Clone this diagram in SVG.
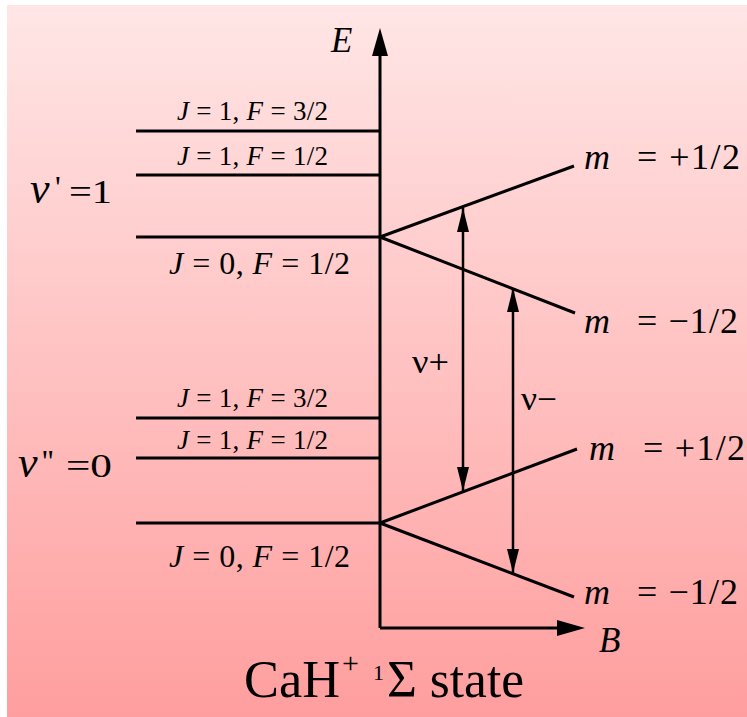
<svg xmlns="http://www.w3.org/2000/svg" width="747" height="717" viewBox="0 0 747 717">
<defs>
<linearGradient id="bg" x1="0" y1="0" x2="0" y2="1">
<stop offset="0" stop-color="#FFE6E6"/>
<stop offset="1" stop-color="#FF9E9E"/>
</linearGradient>
<marker id="ah" viewBox="0 0 24 12" refX="24" refY="6" markerWidth="24" markerHeight="12" markerUnits="userSpaceOnUse" orient="auto-start-reverse">
<path d="M0,0 L24,6 L0,12 Z" fill="#000"/>
</marker>
</defs>
<style>
.t{font-family:"Liberation Serif","Times New Roman",serif;fill:#000}
.i{font-style:italic}
.lv{stroke:#000;stroke-width:3;fill:none}
.ax{stroke:#000;stroke-width:3;fill:none}
.ar{stroke:#000;stroke-width:2.5;fill:none}
.s{font-size:27px}
.L{font-size:32px}
.m{font-size:36px}
.v{font-size:44px;font-style:italic}
.q{font-size:32px}
.n{font-size:34px}
</style>
<rect x="7" y="5" width="740" height="712" fill="url(#bg)"/>

<g id="axes">
<path class="ax" d="M380,628 L380,55" />
<path d="M380,28 L388,56 L372,56 Z" fill="#000"/>
<path class="ax" d="M380,628 L560,628" />
<path d="M585,628 L557,620 L557,636 Z" fill="#000"/>
<text class="t i" x="331" y="52" font-size="35">E</text>
<text class="t i" x="599" y="652" font-size="35">B</text>
</g>

<g id="upper-levels">
<line class="lv" x1="136" y1="131" x2="380" y2="131"/>
<line class="lv" x1="136" y1="175" x2="380" y2="175"/>
<line class="lv" x1="136" y1="237" x2="380" y2="237"/>
<text class="t s" x="177" y="120" textLength="151" lengthAdjust="spacing"><tspan class="i">J</tspan> = 1, <tspan class="i">F</tspan> = 3/2</text>
<text class="t s" x="177" y="165" textLength="151" lengthAdjust="spacing"><tspan class="i">J</tspan> = 1, <tspan class="i">F</tspan> = 1/2</text>
<text class="t L" x="169" y="274" textLength="181" lengthAdjust="spacing"><tspan class="i">J</tspan> = 0, <tspan class="i">F</tspan> = 1/2</text>
<text class="t v" x="30" y="203">v</text>
<text class="t q" x="55" y="198">'</text>
<text class="t n" x="69" y="203" textLength="43" lengthAdjust="spacingAndGlyphs">=1</text>
</g>

<g id="lower-levels">
<line class="lv" x1="136" y1="418" x2="380" y2="418"/>
<line class="lv" x1="136" y1="458" x2="380" y2="458"/>
<line class="lv" x1="136" y1="523" x2="380" y2="523"/>
<text class="t s" x="177" y="407" textLength="151" lengthAdjust="spacing"><tspan class="i">J</tspan> = 1, <tspan class="i">F</tspan> = 3/2</text>
<text class="t s" x="177" y="449" textLength="151" lengthAdjust="spacing"><tspan class="i">J</tspan> = 1, <tspan class="i">F</tspan> = 1/2</text>
<text class="t L" x="169" y="567" textLength="181" lengthAdjust="spacing"><tspan class="i">J</tspan> = 0, <tspan class="i">F</tspan> = 1/2</text>
<text class="t v" x="18" y="477">v</text>
<text class="t q" x="42" y="472">''</text>
<text class="t n" x="66" y="477" textLength="46" lengthAdjust="spacingAndGlyphs">=0</text>
</g>

<g id="upper-zeeman">
<line class="lv" x1="380" y1="237" x2="574" y2="166"/>
<line class="lv" x1="380" y1="237" x2="575" y2="313"/>
<text class="t m i" x="584" y="169">m</text>
<text class="t m" x="637" y="169" textLength="103" lengthAdjust="spacing">= +1/2</text>
<text class="t m i" x="584" y="333">m</text>
<text class="t m" x="637" y="333" textLength="101" lengthAdjust="spacing">= −1/2</text>
</g>

<g id="lower-zeeman">
<line class="lv" x1="380" y1="523" x2="577" y2="449"/>
<line class="lv" x1="380" y1="523" x2="574" y2="597"/>
<text class="t m i" x="589" y="460">m</text>
<text class="t m" x="643" y="460" textLength="102" lengthAdjust="spacing">= +1/2</text>
<text class="t m i" x="584" y="604">m</text>
<text class="t m" x="637" y="604" textLength="101" lengthAdjust="spacing">= −1/2</text>
</g>

<g id="transitions">
<line class="ar" x1="463" y1="208" x2="463" y2="491" marker-start="url(#ah)" marker-end="url(#ah)"/>
<line class="ar" x1="513" y1="288" x2="513" y2="573" marker-start="url(#ah)" marker-end="url(#ah)"/>
<text class="t" x="412" y="373" font-size="33" textLength="37" lengthAdjust="spacingAndGlyphs">ν+</text>
<text class="t" x="521" y="410" font-size="33" textLength="36" lengthAdjust="spacingAndGlyphs">ν−</text>
</g>

<g id="title">
<text class="t" x="244" y="697" font-size="52" textLength="96" lengthAdjust="spacingAndGlyphs">CaH</text>
<text class="t" x="342" y="673" font-size="30">+</text>
<text class="t" x="373" y="680" font-size="22">1</text>
<text class="t" x="387" y="697" font-size="52" textLength="137" lengthAdjust="spacingAndGlyphs">Σ state</text>
</g>
</svg>
